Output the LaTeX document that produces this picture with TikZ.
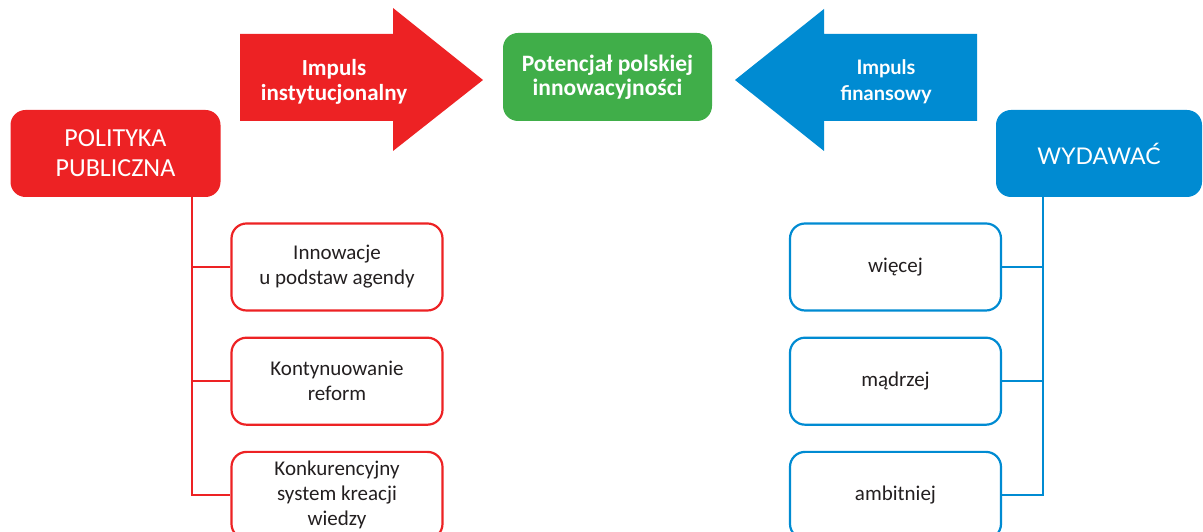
\documentclass[tikz,border=0pt]{standalone}
\usepackage{fontspec}
\setmainfont{Carlito}
\newfontfamily\latofont{Lato}
\usetikzlibrary{positioning}
\definecolor{polred}{HTML}{ED2224}
\definecolor{polgreen}{HTML}{40AE49}
\definecolor{polblue}{HTML}{008BD2}
\definecolor{poltext}{HTML}{231F20}

\tikzset{
  headbox/.style={rounded corners=15pt, text=white, align=center, inner sep=0pt, minimum width=210pt, minimum height=87pt, font=\fontsize{26}{30}\selectfont},
  goalbox/.style={rounded corners=15pt, fill=polgreen, text=white, align=center, inner sep=0pt, minimum width=209pt, minimum height=88pt, font=\fontsize{23.5}{24}\selectfont\bfseries},
  redleaf/.style={draw=polred, line width=2.2pt, fill=white, rounded corners=15pt, text=poltext, align=center, inner sep=0pt, minimum width=211pt, minimum height=87pt, font=\fontsize{21}{25}\selectfont},
  blueleaf/.style={redleaf, draw=polblue},
  redline/.style={draw=polred, line width=2pt},
  blueline/.style={draw=polblue, line width=2pt},
  arrowlab/.style={text=white, align=center, font=\fontsize{23}{25}\selectfont\bfseries}
}

\begin{document}
\begin{tikzpicture}[x=1pt,y=1pt]
  \clip (0,0) rectangle (1203,532);

  % big block arrows
  \fill[polred] (240,498) -- (393,498) -- (393,524) -- (483,452) -- (393,381) -- (393,411) -- (240,411) -- cycle;
  \fill[polblue] (977,498) -- (824,498) -- (824,523) -- (735,452) -- (824,381) -- (824,411) -- (977,411) -- cycle;
  \node[arrowlab] (impinst) at (334,450) {Impuls\\instytucjonalny};
  \node[arrowlab, font=\latofont\fontsize{20}{26}\selectfont\bfseries] (impfin) at (886,450) {Impuls\\finansowy};

  \node[goalbox] (potencjal) at (607.5,455) {Potencjał polskiej\\innowacyjności};

  % left branch
  \node[headbox, fill=polred] (polityka) at (115.5,378.5) {POLITYKA\\PUBLICZNA};
  \node[redleaf] (innowacje) at (337,265) {Innowacje\\u podstaw agendy};
  \node[redleaf, below=25pt of innowacje] (reformy) {Kontynuowanie\\reform};
  \node[redleaf, below=25pt of reformy] (wiedza) {Konkurencyjny\\system kreacji\\wiedzy};

  \draw[redline] ([xshift=76pt]polityka.south) |- (wiedza.west);
  \foreach \leaf in {innowacje,reformy}
    \draw[redline] ([xshift=76pt]polityka.south |- \leaf.west) -- (\leaf.west);

  % right branch
  \node[headbox, fill=polblue, minimum width=206pt, font=\latofont\fontsize{23}{28}\selectfont] (wydawac) at (1099,378.5) {WYDAWAĆ};
  \node[blueleaf] (wiecej) at (895.5,265) {więcej};
  \node[blueleaf, below=25pt of wiecej] (madrzej) {mądrzej};
  \node[blueleaf, below=25pt of madrzej] (ambitniej) {ambitniej};

  \draw[blueline] ([xshift=-56pt]wydawac.south) |- (ambitniej.east);
  \foreach \leaf in {wiecej,madrzej}
    \draw[blueline] ([xshift=-56pt]wydawac.south |- \leaf.east) -- (\leaf.east);
\end{tikzpicture}
\end{document}
